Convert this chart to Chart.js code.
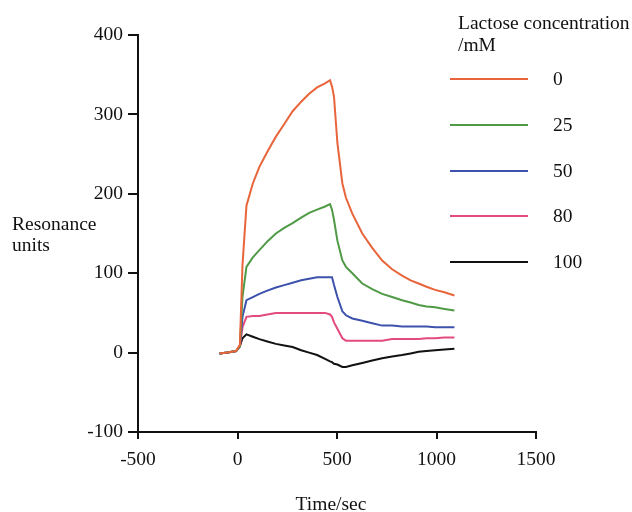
<!DOCTYPE html>
<html><head><meta charset="utf-8">
<script src="https://cdn.jsdelivr.net/npm/chart.js@4/dist/chart.umd.min.js"></script>
<style>html,body{margin:0;padding:0;background:#fff}#wrap{width:632px;height:512px}</style>
</head><body><div id="wrap"><canvas id="c" width="632" height="512"></canvas></div>
<script>
const time = [-90,-50,-7,12,25,45,77,110,150,193,235,277,320,360,400,440,465,475,485,502,527,545,577,627,677,727,777,827,870,910,950,993,1040,1090];
const conc0   = [-1,0,2,10,110,185,213,234,253,272,288,304,316,326,334,339,343,335,322,264,213,195,175,150,132,116,105,97,91,87,83,79,76,72];
const conc25  = [-1,0,2,8,70,108,120,129,140,150,157,163,170,176,180,184,187,180,167,141,116,108,100,87,80,74,70,66,63,60,58,57,55,53];
const conc50  = [-1,0,2,8,45,66,70,74,78,82,85,88,91,93,95,95,95,95,85,70,52,47,43,40,37,34,34,33,33,33,33,32,32,32];
const conc80  = [-1,0,2,8,32,45,46,46,48,50,50,50,50,50,50,50,48,45,38,30,18,15,15,15,15,15,17,17,17,17,18,18,19,19];
const conc100 = [-1,0,2,8,18,23,20,17,14,11,9,7,3,0,-3,-8,-11,-12,-14,-15,-18,-18,-16,-13,-10,-7,-5,-3,-1,1,2,3,4,5];
const seriesLabels = ['0','25','50','80','100'];
const seriesColors = ['#e8643a','#4f9a45','#3c52ac','#e24a80','#111111'];
const seriesValues = [conc0,conc25,conc50,conc80,conc100];
const xTicks = [-500,0,500,1000,1500];
const yTicks = [-100,0,100,200,300,400];

const FONT = '"Liberation Serif", "Times New Roman", serif';
const FS = 19.5;

const datasets = seriesValues.map((vals,i)=>({
  label: seriesLabels[i],
  data: time.map((t,j)=>({x:t,y:vals[j]})),
  borderColor: seriesColors[i],
  backgroundColor: seriesColors[i],
  borderWidth: 2,
  pointRadius: 0,
  tension: 0,
  fill: false
}));

const decor = {
  id:'decor',
  afterDraw(chart){
    const ctx = chart.ctx;
    ctx.save();
    ctx.fillStyle = '#111';
    ctx.font = FS + 'px ' + FONT;
    ctx.textBaseline = 'middle';
    ctx.textAlign = 'left';
    ctx.fillText('Lactose concentration', 458, 24);
    ctx.fillText('/mM', 458, 46);
    const ys = [79,125,171,216,262];
    chart.data.datasets.forEach((ds,i)=>{
      ctx.strokeStyle = ds.borderColor;
      ctx.lineWidth = 2;
      ctx.beginPath();
      ctx.moveTo(450, ys[i]); ctx.lineTo(528, ys[i]);
      ctx.stroke();
      ctx.fillStyle = '#111';
      ctx.fillText(ds.label, 553, ys[i] + 1);
    });
    ctx.fillText('Resonance', 12, 225);
    ctx.fillText('units', 12, 246);
    ctx.textAlign = 'center';
    ctx.fillText('Time/sec', 331, 505);
    ctx.restore();
  }
};

new Chart(document.getElementById('c'), {
  type:'line',
  data:{datasets},
  options:{
    responsive:false,
    animation:false,
    layout:{padding:{left:0,right:96,top:35,bottom:0}},
    plugins:{legend:{display:false},tooltip:{enabled:false}},
    scales:{
      x:{
        type:'linear', min:-500, max:1500,
        afterBuildTicks(s){ s.ticks = xTicks.map(v=>({value:v})); },
        afterFit(s){ s.height = 80; },
        border:{display:true,color:'#111',width:2},
        grid:{display:true,drawOnChartArea:false,drawTicks:true,tickLength:7,color:'#111',lineWidth:2},
        ticks:{color:'#111',font:{family:FONT,size:FS},padding:9,maxRotation:0,callback:v=>String(v)}
      },
      y:{
        type:'linear', min:-100, max:400,
        afterBuildTicks(s){ s.ticks = yTicks.map(v=>({value:v})); },
        afterFit(s){ s.width = 138; },
        border:{display:true,color:'#111',width:2},
        grid:{display:true,drawOnChartArea:false,drawTicks:true,tickLength:10,color:'#111',lineWidth:2},
        ticks:{color:'#111',font:{family:FONT,size:FS},padding:5,callback:v=>String(v)}
      }
    }
  },
  plugins:[decor]
});
</script></body></html>
